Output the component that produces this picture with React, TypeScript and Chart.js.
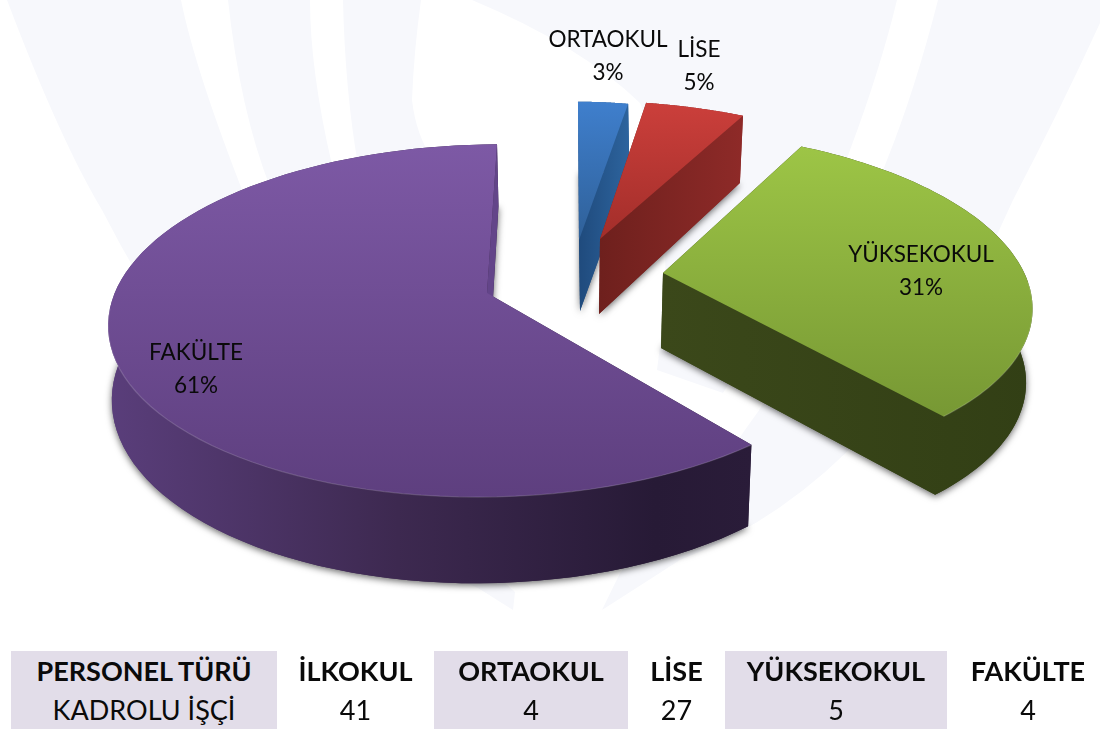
import React, { useEffect, useRef } from "react";
import { Chart, registerables } from "chart.js";

Chart.register(...registerables);

// ---- data ----
const categories = ["ORTAOKUL", "LİSE", "YÜKSEKOKUL", "FAKÜLTE"];
const shares = [3, 5, 31, 61];
const tableHeaders = ["PERSONEL TÜRÜ", "İLKOKUL", "ORTAOKUL", "LİSE", "YÜKSEKOKUL", "FAKÜLTE"];
const tableRow = ["KADROLU İŞÇİ", "41", "4", "27", "5", "4"];

// ---- look of each exploded slice: a perspective mapping of the library's arc angles ----
const PERSPECTIVE = 0.157;
const sliceTop = [
  { ax: 579, ay: 240, A: 309, B: 160, C: 1.2, L: 0 },
  { ax: 600, ay: 239, A: 366, B: 160, C: 15.6, L: 0 },
  { ax: 663, ay: 273, A: 365.6, B: 165, C: 20.5, L: -0.012 },
  { ax: 487, ay: 293, A: 376, B: 172, C: -11.6, L: 0.01 },
];
const sliceBottom = [
  { ax: 580, ay: 311, A: 305, B: 161, C: 0, L: 0 },
  { ax: 599, ay: 314, A: 360, B: 170, C: 15, L: 0 },
  { ax: 661, ay: 348, A: 362, B: 169, C: 16, L: -0.012 },
  { ax: 489, ay: 365, A: 370.6, B: 184, C: -11, L: 0 },
];
const topColors = [
  ["#3f7fcd", "#2f6098"],
  ["#cb3f3b", "#a32e2a"],
  ["#9dc546", "#779834"],
  ["#7d59a5", "#5e3f7f"],
];
const sideColors = [
  [["#1f4a7c", 0], ["#2d649e", 1]],
  [["#6e201d", 0], ["#8e2a28", 1]],
  [["#3b481a", 0], ["#323f15", 1]],
  [["#5a3e7b", 0], ["#3d2950", 0.45], ["#271a36", 0.85], ["#2a1c39", 1]],
];
const endFaceColors = [null, null, null, "#634589"];
const labelAnchors = [
  { x: 608, y: 40 },
  { x: 699, y: 50 },
  { x: 921, y: 255 },
  { x: 196, y: 353 },
];
const labelFont = "22.5px Lato";
const labelLeading = 32.5;

type P = { ax: number; ay: number; A: number; B: number; C: number; L: number };

function project(p: P, angle: number) {
  const u = Math.cos(angle);
  const v = Math.sin(angle);
  const s = 1 / (1 - PERSPECTIVE * v - p.L * u);
  return { x: p.ax + (p.A * u + p.C * v) * s, y: p.ay + p.B * v * s, v };
}

function arcPoints(p: P, a0: number, a1: number) {
  const n = 90;
  const pts = [];
  for (let i = 0; i <= n; i++) pts.push(project(p, a0 + ((a1 - a0) * i) / n));
  return pts;
}

function polygon(ctx: CanvasRenderingContext2D, pts: { x: number; y: number }[]) {
  ctx.beginPath();
  pts.forEach((q, i) => (i ? ctx.lineTo(q.x, q.y) : ctx.moveTo(q.x, q.y)));
  ctx.closePath();
}

function band(
  ctx: CanvasRenderingContext2D,
  start: number[],
  curves: number[][],
) {
  ctx.beginPath();
  ctx.moveTo(start[0], start[1]);
  curves.forEach((c) => {
    if (c.length === 2) ctx.lineTo(c[0], c[1]);
    else ctx.quadraticCurveTo(c[0], c[1], c[2], c[3]);
  });
  ctx.closePath();
  ctx.fill();
}

const watermark = {
  id: "watermark",
  beforeDatasetsDraw(chart: any) {
    const ctx: CanvasRenderingContext2D = chart.ctx;
    ctx.save();
    ctx.fillStyle = "#f7f8fc";
    band(ctx, [7, 0], [[60, 140, 102, 210], [250, 500, 478, 588], [513, 610], [515, 592], [330, 430, 246, 200], [195, 70, 181, 0]]);
    band(ctx, [228, 0], [[240, 110, 270, 187], [330, 380, 480, 500], [500, 300], [380, 290, 332, 165], [310, 70, 310, 0]]);
    band(ctx, [343, 0], [[345, 90, 358, 165], [400, 300, 480, 300], [480, 200], [420, 170, 412, 100], [414, 50, 421, 0]]);
    band(ctx, [472, 0], [[580, 45, 640, 103], [680, 200, 657, 370], [723, 393], [820, 240, 850, 150], [880, 70, 897, 0]]);
    band(ctx, [938, 0], [[915, 90, 887, 160], [800, 390, 660, 530], [620, 573], [602, 610], [680, 560], [890, 480, 1013, 200], [1060, 110, 1100, 23], [1100, 0]]);
    ctx.restore();
  },
};

const pie3d = {
  id: "pie3d",
  beforeDatasetDraw(chart: any, args: any) {
    const ctx: CanvasRenderingContext2D = chart.ctx;
    const meta = chart.getDatasetMeta(args.index);
    meta.data.forEach((el: any, i: number) => {
      const top = sliceTop[i];
      const bottom = sliceBottom[i];
      const a0 = el.startAngle;
      const a1 = el.endAngle;
      const arcT = arcPoints(top, a0, a1);
      const arcB = arcPoints(bottom, a0, a1);
      const apexT = { x: top.ax, y: top.ay, v: 0 };
      const apexB = { x: bottom.ax, y: bottom.ay, v: 0 };
      const xs = arcT.concat(arcB, [apexT, apexB]).map((q) => q.x);
      const ys = arcT.concat([apexT]).map((q) => q.y);
      const side = ctx.createLinearGradient(Math.min(...xs), 0, Math.max(...xs), 0);
      (sideColors[i] as any[]).forEach((s) => side.addColorStop(s[1], s[0]));

      // soft shadow, cast only by the base of the slice
      ctx.save();
      ctx.fillStyle = side;
      ctx.shadowColor = "rgba(0,0,0,0.6)";
      ctx.shadowBlur = 7;
      ctx.shadowOffsetY = 2;
      polygon(ctx, [apexB].concat(arcB));
      ctx.fill();
      ctx.restore();

      ctx.save();
      ctx.fillStyle = side;
      polygon(ctx, [apexT, arcT[0], arcB[0], apexB]);
      ctx.fill();
      polygon(ctx, arcT.concat(arcB.slice().reverse()));
      ctx.fill();
      if (endFaceColors[i]) ctx.fillStyle = endFaceColors[i] as string;
      polygon(ctx, [apexT, arcT[arcT.length - 1], arcB[arcB.length - 1], apexB]);
      ctx.fill();
      ctx.restore();

      const g = ctx.createLinearGradient(0, Math.min(...ys), 0, Math.max(...ys));
      g.addColorStop(0, topColors[i][0]);
      g.addColorStop(1, topColors[i][1]);
      ctx.save();
      ctx.fillStyle = g;
      polygon(ctx, [apexT].concat(arcT));
      ctx.fill();
      ctx.strokeStyle = "rgba(255,255,255,0.16)";
      ctx.lineWidth = 1.2;
      ctx.beginPath();
      let pen = false;
      arcT.forEach((q) => {
        if (q.v > 0.05) {
          if (pen) ctx.lineTo(q.x, q.y);
          else ctx.moveTo(q.x, q.y);
          pen = true;
        } else pen = false;
      });
      ctx.stroke();
      ctx.restore();
    });

    ctx.save();
    ctx.font = labelFont;
    ctx.fillStyle = "#0a0a0a";
    ctx.textAlign = "center";
    ctx.textBaseline = "middle";
    meta.data.forEach((_: any, i: number) => {
      const a = labelAnchors[i];
      ctx.fillText(categories[i], a.x, a.y);
      ctx.fillText(shares[i] + "%", a.x, a.y + labelLeading);
    });
    ctx.restore();
    return false;
  },
};

const columnEdges = [11, 277, 434, 628, 725, 947, 1109];

export default function App() {
  const ref = useRef<HTMLCanvasElement | null>(null);
  useEffect(() => {
    if (!ref.current) return;
    const chart = new Chart(ref.current, {
      type: "pie",
      data: {
        labels: categories,
        datasets: [{ data: shares, borderWidth: 0, backgroundColor: topColors.map((c) => c[0]) }],
      },
      options: {
        animation: false,
        responsive: false,
        plugins: { legend: { display: false }, tooltip: { enabled: false } },
      },
      plugins: [watermark, pie3d],
    } as any);
    return () => chart.destroy();
  }, []);

  const cell = (text: string, i: number, bold: boolean, top: number) => (
    <div
      key={i + "-" + top}
      style={{
        position: "absolute",
        left: columnEdges[i],
        width: columnEdges[i + 1] - columnEdges[i],
        top,
        height: 39,
        lineHeight: "39px",
        textAlign: "center",
        fontFamily: "Lato",
        fontSize: 27,
        fontWeight: bold ? 700 : 400,
        color: "#0a0a0a",
        background: i % 2 === 0 ? "#e2dde9" : "transparent",
      }}
    >
      {text}
    </div>
  );

  return (
    <div style={{ position: "absolute", left: 0, top: 0, width: 1100, height: 729, overflow: "hidden", background: "#fff" }}>
      <canvas ref={ref} width={1100} height={729} style={{ position: "absolute", left: 0, top: 0, width: 1100, height: 729 }} />
      {tableHeaders.map((t, i) => cell(t, i, true, 651))}
      {tableRow.map((t, i) => cell(t, i, false, 690))}
    </div>
  );
}
